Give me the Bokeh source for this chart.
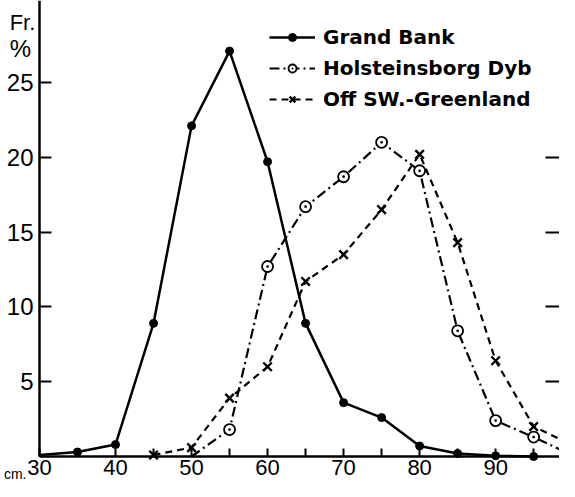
from bokeh.plotting import figure
from bokeh.models import FixedTicker, LinearAxis, Label, Legend, LegendItem, Range1d
from bokeh.embed import file_html
from bokeh.resources import INLINE

# ---- data (length in cm, frequency in %) ----
gb_cm = [30, 35, 40, 45, 50, 55, 60, 65, 70, 75, 80, 85, 90, 95]
grand_bank = [0.1, 0.3, 0.8, 8.9, 22.1, 27.1, 19.7, 8.9, 3.6, 2.6, 0.7, 0.2, 0.05, 0.0]

hd_cm = [50, 55, 60, 65, 70, 75, 80, 85, 90, 95, 100]
holsteinsborg = [0.0, 1.8, 12.7, 16.7, 18.7, 21.0, 19.1, 8.4, 2.4, 1.3, 0.1]

sw_cm = [45, 50, 55, 60, 65, 70, 75, 80, 85, 90, 95, 100]
off_sw_greenland = [0.1, 0.6, 3.9, 6.0, 11.7, 13.5, 16.5, 20.2, 14.3, 6.4, 2.0, 0.8]

x_ticks = [30, 35, 40, 45, 50, 55, 60, 65, 70, 75, 80, 85, 90, 95]
x_labels = {30: "30", 40: "40", 50: "50", 60: "60", 70: "70", 80: "80", 90: "90"}
y_ticks = [5, 10, 15, 20, 25]
right_ticks = [5, 10, 15, 20]

X_START, X_END = 24.87, 98.4
Y_START, Y_END = -1.67, 30.48

NUM_FONT = "Liberation Sans"
LEG_FONT = "DejaVu Sans"

p = figure(width=559, height=481, output_backend="svg", toolbar_location=None,
           x_range=Range1d(X_START, X_END), y_range=Range1d(Y_START, Y_END),
           min_border_left=0, min_border_right=0, min_border_top=0, min_border_bottom=0)
p.xgrid.visible = False
p.ygrid.visible = False
p.outline_line_color = None
p.background_fill_color = "white"
p.border_fill_color = "white"

# x axis (drawn at y = 0)
xa = p.xaxis[0]
xa.fixed_location = 0
xa.bounds = (x_ticks[0], X_END)
xa.ticker = FixedTicker(ticks=x_ticks, minor_ticks=[])
xa.major_label_overrides = {t: x_labels.get(t, "") for t in x_ticks}
xa.major_tick_in = 8
xa.major_tick_out = 0
xa.major_tick_line_width = 2
xa.axis_line_width = 2.5
xa.major_label_standoff = 3
xa.major_label_text_font = NUM_FONT
xa.major_label_text_font_size = "22px"
xa.major_label_text_color = "black"

# y axis (drawn at x = 30)
ya = p.yaxis[0]
ya.fixed_location = x_ticks[0]
ya.bounds = (0, Y_END)
ya.ticker = FixedTicker(ticks=y_ticks, minor_ticks=[])
ya.major_tick_in = 12
ya.major_tick_out = 0
ya.major_tick_line_width = 2
ya.axis_line_width = 2.5
ya.major_label_standoff = 6
ya.major_label_text_font = NUM_FONT
ya.major_label_text_font_size = "24px"
ya.major_label_text_color = "black"

# right-hand tick marks
ra = LinearAxis(ticker=FixedTicker(ticks=right_ticks, minor_ticks=[]))
ra.fixed_location = X_END
ra.axis_line_color = None
ra.major_tick_in = 14
ra.major_tick_out = 0
ra.major_tick_line_width = 2
ra.major_label_standoff = 0
ra.major_label_overrides = {t: "" for t in right_ticks}
ra.major_label_text_font_size = "1px"
p.add_layout(ra, "right")

# series
gb_line = p.line(gb_cm, grand_bank, line_color="black", line_width=2.5)
gb_pts = p.scatter(gb_cm[1:], grand_bank[1:], marker="circle", size=8,
                   fill_color="black", line_color="black")

hd_line = p.line(hd_cm, holsteinsborg, line_color="black", line_width=2.2,
                 line_dash="10 4 2 4")
hd_pts = p.scatter(hd_cm[1:], holsteinsborg[1:], marker="circle_dot", size=11,
                   fill_color="white", line_color="black", line_width=1.8)

sw_line = p.line(sw_cm, off_sw_greenland, line_color="black", line_width=2.2,
                 line_dash="7 5")
sw_pts = p.scatter(sw_cm, off_sw_greenland, marker="x", size=12,
                   line_color="black", line_width=2.4)

legend = Legend(items=[
    LegendItem(label="Grand Bank", renderers=[gb_line, gb_pts]),
    LegendItem(label="Holsteinsborg Dyb", renderers=[hd_line, hd_pts]),
    LegendItem(label="Off SW.-Greenland", renderers=[sw_line, sw_pts]),
], location=(269, 370))
legend.background_fill_alpha = 0
legend.border_line_color = None
legend.padding = 0
legend.margin = 0
legend.spacing = 7
legend.glyph_width = 46
legend.glyph_height = 20
legend.label_height = 20
legend.label_standoff = 8
legend.label_text_font = LEG_FONT
legend.label_text_font_style = "bold"
legend.label_text_font_size = "20px"
legend.label_text_color = "black"
p.add_layout(legend)

# axis captions
p.add_layout(Label(x=27.76, y=29.0, text="Fr.", text_font=NUM_FONT, text_font_size="22px",
                   text_align="center", text_baseline="middle", text_color="black"))
p.add_layout(Label(x=27.5, y=27.3, text="%", text_font=NUM_FONT, text_font_size="24px",
                   text_align="center", text_baseline="middle", text_color="black"))
p.add_layout(Label(x=28.29, y=-1.2, text="cm.", text_font=NUM_FONT, text_font_size="14px",
                   text_align="right", text_baseline="alphabetic", text_color="black"))

open("out.html", "w").write(file_html(p, INLINE))
